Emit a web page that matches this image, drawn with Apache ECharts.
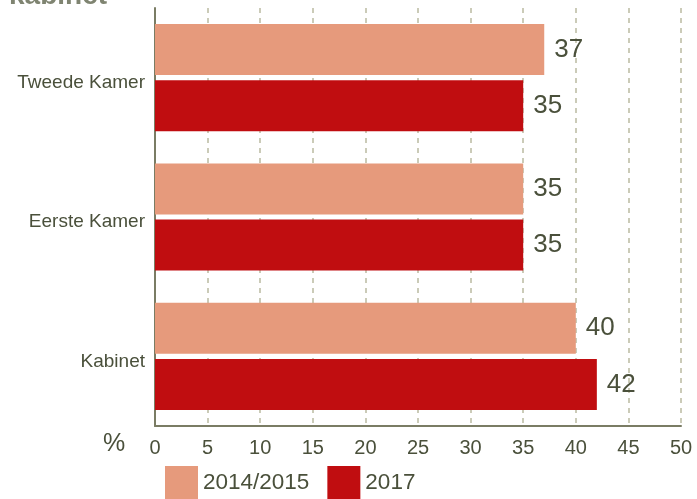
<!DOCTYPE html>
<html>
<head>
<meta charset="utf-8">
<script src="https://cdn.jsdelivr.net/npm/echarts@6/dist/echarts.min.js"></script>
<style>html,body{margin:0;padding:0;background:#fff;}#c{width:697px;height:499px;}</style>
</head>
<body>
<div id="c"></div>
<script>
const categories = ['Tweede Kamer', 'Eerste Kamer', 'Kabinet'];
const seriesNames = ['2014/2015', '2017'];
const values2014 = [37, 35, 40];
const values2017 = [35, 35, 42];
const xTicks = [0, 5, 10, 15, 20, 25, 30, 35, 40, 45, 50];

const chart = echarts.init(document.getElementById('c'), null, {renderer: 'canvas'});
const sans = '"Liberation Sans", Arial, sans-serif';
const textCol = '#4a503b';
chart.setOption({
  animation: false,
  backgroundColor: '#ffffff',
  grid: {left: 155, right: 16, top: 8, bottom: 73, containLabel: false, outerBoundsMode: 'none'},
  xAxis: {
    type: 'value', min: xTicks[0], max: xTicks[xTicks.length - 1], interval: 5,
    axisLine: {show: true, lineStyle: {color: '#7a7c64', width: 2}},
    axisTick: {show: false},
    axisLabel: {color: textCol, fontFamily: sans, fontSize: 20, margin: 12},
    splitLine: {show: true, lineStyle: {color: '#cbcbb8', width: 2, type: [5, 5]}}
  },
  yAxis: {
    type: 'category', data: categories, inverse: true,
    axisLine: {show: true, lineStyle: {color: '#7a7c64', width: 2}},
    axisTick: {show: false},
    axisLabel: {
      color: textCol, fontFamily: sans, fontSize: 19, margin: 10,
      formatter: function (v) { return '{c|' + v + '}'; },
      rich: {c: {color: textCol, fontFamily: sans, fontSize: 19, padding: [10, 0, 0, 0]}}
    }
  },
  legend: {
    left: 165, top: 466, padding: 0, itemWidth: 33, itemHeight: 34, itemGap: 18,
    icon: 'rect',
    textStyle: {color: textCol, fontFamily: sans, fontSize: 22.5},
    data: seriesNames
  },
  graphic: [
    {type: 'text', x: 9, y: 10, style: {text: 'kabinet', fill: '#7f8471', font: 'bold 28px "Liberation Sans", sans-serif', verticalAlign: 'bottom'}},
    {type: 'text', x: 103, y: 444, style: {text: '%', fill: textCol, font: '25px "Liberation Sans", sans-serif', verticalAlign: 'middle'}}
  ],
  series: [
    {
      name: seriesNames[0], type: 'bar', data: values2014, barWidth: 51, barGap: '10%',
      itemStyle: {color: '#e69a7c'},
      label: {show: true, position: 'right', distance: 10, color: textCol, fontSize: 26, fontFamily: sans}
    },
    {
      name: seriesNames[1], type: 'bar', data: values2017, barWidth: 51, barGap: '10%',
      itemStyle: {color: '#c00d10'},
      label: {show: true, position: 'right', distance: 10, color: textCol, fontSize: 26, fontFamily: sans}
    }
  ]
});
</script>
</body>
</html>
